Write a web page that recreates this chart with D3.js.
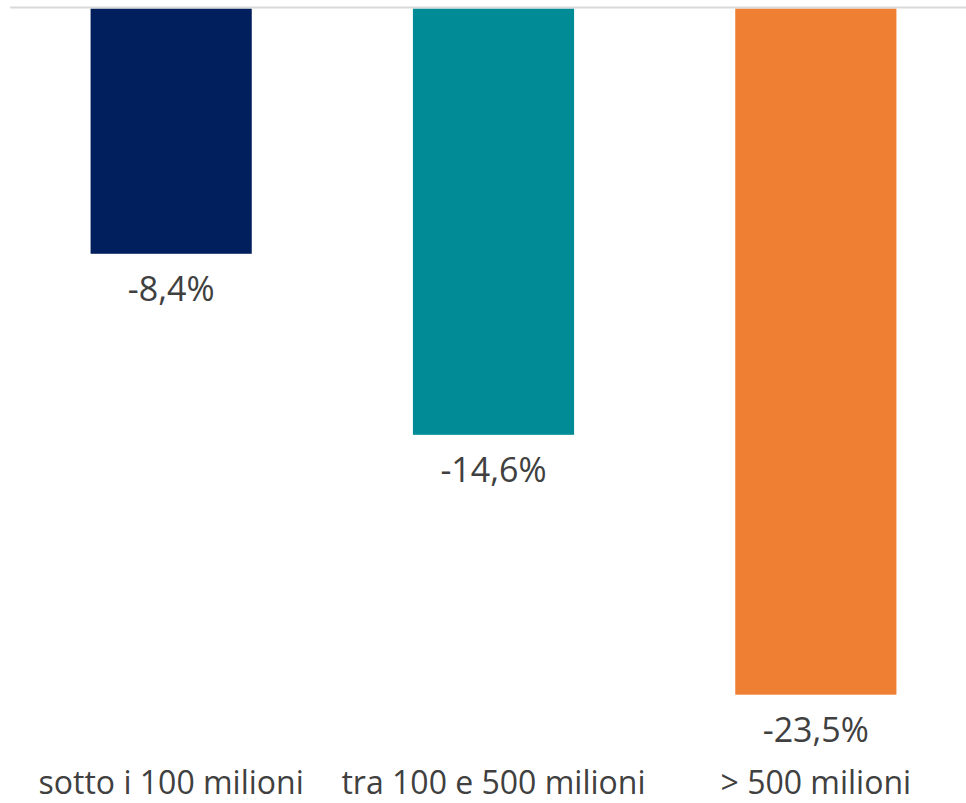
<!DOCTYPE html>
<html>
<head>
<meta charset="utf-8">
<script src="https://cdn.jsdelivr.net/npm/d3@7"></script>
<style>
  html, body { margin: 0; padding: 0; background: #fff; }
  svg { display: block; }
  text { font-family: "Open Sans", "Noto Sans", sans-serif; fill: #404040; }
</style>
</head>
<body>
<svg id="chart" width="966" height="803"></svg>
<script>
const categories = ["sotto i 100 milioni", "tra 100 e 500 milioni", "> 500 milioni"];
const values = [-8.4, -14.6, -23.5];
const colors = ["#001f5c", "#008b96", "#ee7f33"];

const svg = d3.select("#chart");
const W = 966, H = 803;

const x = d3.scaleBand().domain(categories).range([10, 977]).paddingInner(0.5).paddingOuter(0.25);
const y = d3.scaleLinear().domain([0, -24]).range([8.5, 8.5 + 24 * 29.2]);

const fmt = v => d3.format(".1f")(v).replace(".", ",").replace("−", "-") + "%";

svg.selectAll("rect.bar")
  .data(values)
  .join("rect")
  .attr("class", "bar")
  .attr("x", (d, i) => x(categories[i]))
  .attr("width", x.bandwidth())
  .attr("y", y(0))
  .attr("height", d => y(d) - y(0))
  .attr("fill", (d, i) => colors[i]);

// zero line
svg.append("line")
  .attr("x1", 10).attr("x2", W)
  .attr("y1", y(0) - 1).attr("y2", y(0) - 1)
  .attr("stroke", "#d9d9d9").attr("stroke-width", 2);

// value labels
svg.selectAll("text.val")
  .data(values)
  .join("text")
  .attr("class", "val")
  .attr("x", (d, i) => x(categories[i]) + x.bandwidth() / 2)
  .attr("y", d => y(d) + 47)
  .attr("text-anchor", "middle")
  .style("font-size", "34px")
  .text(fmt);

// category labels
svg.selectAll("text.cat")
  .data(categories)
  .join("text")
  .attr("class", "cat")
  .attr("x", d => x(d) + x.bandwidth() / 2)
  .attr("y", 794)
  .attr("text-anchor", "middle")
  .style("font-size", "32px")
  .text(d => d);
</script>
</body>
</html>
